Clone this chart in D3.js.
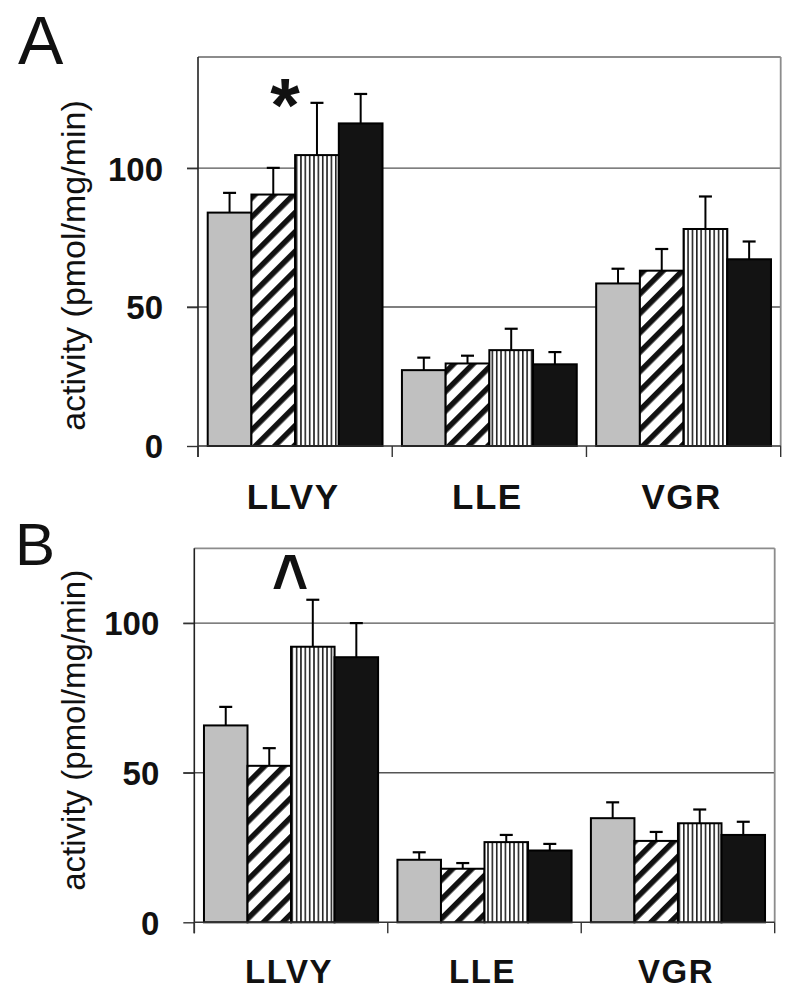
<!DOCTYPE html>
<html><head><meta charset="utf-8">
<script src="https://cdn.jsdelivr.net/npm/d3@7"></script>
<style>body{margin:0;background:#fff}</style>
</head><body><svg id="c" width="800" height="996"></svg>
<script>
// ---- data ----
const categories = ["LLVY", "LLE", "VGR"];
const groups = ["g1", "g2", "g3", "g4"];
const yTicks = [0, 50, 100];
const meanA = [[84.0, 90.5, 104.7, 116.1], [27.3, 29.7, 34.5, 29.4], [58.5, 63.1, 78.1, 67.2]];
const errA  = [[7.1, 9.6, 18.8, 10.6], [4.5, 2.8, 7.7, 4.4], [5.3, 7.8, 11.7, 6.4]];
const meanB = [[65.8, 52.3, 92.1, 88.6], [20.9, 17.9, 26.8, 24.0], [34.8, 27.2, 33.1, 29.2]];
const errB  = [[6.2, 5.9, 15.7, 11.4], [2.5, 1.9, 2.4, 2.2], [5.3, 3.0, 4.6, 4.4]];
const yMaxA = 140, yMaxB = 125;
const panelLabels = ["A", "B"];
const yLabel = "activity (pmol/mg/min)";
const annotA = {cat: "LLVY", group: "g3", value: 125.5, text: "*"};
const annotB = {cat: "LLVY", group: "g3", value: 116.5, text: "^"};

// ---- layout ----
const panels = [
  {label: panelLabels[0], mean: meanA, err: errA, yMax: yMaxA, annot: annotA,
   left: 198, right: 780.7, top: 57, bottom: 446,
   labX: 18, labY: 64, labSize: 68, yLabX: 85, yLabDy: 14, yLabSize: 34,
   xLabBase: 509, xLabSize: 35, annotSize: 76, annotScaleY: 1, annotDy: 0.44, annotDx: -10},
  {label: panelLabels[1], mean: meanB, err: errB, yMax: yMaxB, annot: annotB,
   left: 194.3, right: 774.7, top: 548.3, bottom: 922.3,
   labX: 15, labY: 565, labSize: 60, yLabX: 85, yLabDy: -5, yLabSize: 33,
   xLabBase: 983, xLabSize: 33, annotSize: 62, annotScaleY: 1.25, annotDy: 0.45, annotDx: -1}
];

const svg = d3.select("#c");
const defs = svg.append("defs");
// diagonal hatch "/"
const ph = defs.append("pattern").attr("id", "diag").attr("patternUnits", "userSpaceOnUse")
  .attr("width", 13.7).attr("height", 13.7).attr("patternTransform", "rotate(45)");
ph.append("rect").attr("width", 13.7).attr("height", 13.7).attr("fill", "#fff");
ph.append("rect").attr("x", 0).attr("width", 5.5).attr("height", 13.7).attr("fill", "#111");
// vertical stripes
const pv = defs.append("pattern").attr("id", "vert").attr("patternUnits", "userSpaceOnUse")
  .attr("width", 4.35).attr("height", 10);
pv.append("rect").attr("width", 4.35).attr("height", 10).attr("fill", "#fff");
pv.append("rect").attr("x", 0).attr("width", 1.6).attr("height", 10).attr("fill", "#222");

const fills = {g1: "#c0c0c0", g2: "url(#diag)", g3: "url(#vert)", g4: "#131313"};
const FONT = "'Liberation Sans', Arial, Helvetica, sans-serif";

panels.forEach(p => {
  const g = svg.append("g");
  const y = d3.scaleLinear().domain([0, p.yMax]).range([p.bottom, p.top]);
  const x0 = d3.scaleBand().domain(categories).range([p.left, p.right]).paddingInner(0.1).paddingOuter(0.05);
  const x1 = d3.scaleBand().domain(groups).range([0, x0.bandwidth()]);
  const step = x0.step();
  const bounds = d3.range(categories.length + 1).map(i => p.left + i * step);

  // gridlines (with left tick extension)
  g.selectAll(".grid").data(yTicks.filter(t => t > 0)).join("line")
    .attr("x1", p.left - 11).attr("x2", p.right)
    .attr("y1", d => y(d)).attr("y2", d => y(d))
    .attr("stroke", "#555").attr("stroke-width", 1.4);
  // frame top and right (grey)
  g.append("line").attr("x1", p.left).attr("x2", p.right).attr("y1", y(p.yMax)).attr("y2", y(p.yMax))
    .attr("stroke", "#8c8c8c").attr("stroke-width", 1.8);
  g.append("line").attr("x1", p.right).attr("x2", p.right).attr("y1", y(p.yMax)).attr("y2", y(0))
    .attr("stroke", "#8c8c8c").attr("stroke-width", 1.8);

  // bars
  const rows = [];
  categories.forEach((c, ci) => groups.forEach((gr, gi) =>
    rows.push({c, gr, v: p.mean[ci][gi], e: p.err[ci][gi]})));
  g.selectAll(".bar").data(rows).join("rect")
    .attr("x", d => x0(d.c) + x1(d.gr)).attr("width", x1.bandwidth())
    .attr("y", d => y(d.v)).attr("height", d => y(0) - y(d.v))
    .attr("fill", d => fills[d.gr]).attr("stroke", "#000").attr("stroke-width", 2);
  // error bars
  g.selectAll(".eb").data(rows).join("line")
    .attr("x1", d => x0(d.c) + x1(d.gr) + x1.bandwidth() / 2)
    .attr("x2", d => x0(d.c) + x1(d.gr) + x1.bandwidth() / 2)
    .attr("y1", d => y(d.v)).attr("y2", d => y(d.v + d.e))
    .attr("stroke", "#000").attr("stroke-width", 2);
  g.selectAll(".cap").data(rows).join("line")
    .attr("x1", d => x0(d.c) + x1(d.gr) + x1.bandwidth() / 2 - 6.5)
    .attr("x2", d => x0(d.c) + x1(d.gr) + x1.bandwidth() / 2 + 6.5)
    .attr("y1", d => y(d.v + d.e)).attr("y2", d => y(d.v + d.e))
    .attr("stroke", "#000").attr("stroke-width", 2.2);

  // y axis
  const ya = g.append("g").attr("transform", `translate(${p.left},0)`)
    .call(d3.axisLeft(y).tickValues(yTicks).tickSize(11).tickPadding(24).tickSizeOuter(0));
  ya.select(".domain").remove();
  ya.selectAll(".tick line").attr("stroke", "#333").attr("stroke-width", 1.4);
  ya.selectAll(".tick text").attr("font-family", FONT).attr("font-weight", "bold")
    .attr("font-size", 33).attr("fill", "#111").attr("dy", "0.36em");
  g.append("line").attr("x1", p.left).attr("x2", p.left).attr("y1", y(p.yMax)).attr("y2", y(0) + 11)
    .attr("stroke", "#222").attr("stroke-width", 1.6);
  // x axis baseline and category boundary ticks
  g.append("line").attr("x1", p.left).attr("x2", p.right).attr("y1", y(0)).attr("y2", y(0))
    .attr("stroke", "#333").attr("stroke-width", 1.6);
  g.selectAll(".xt").data(bounds).join("line")
    .attr("x1", d => d).attr("x2", d => d).attr("y1", y(0)).attr("y2", y(0) + 11)
    .attr("stroke", "#333").attr("stroke-width", 1.4);
  // x labels
  g.selectAll(".xl").data(categories).join("text")
    .attr("x", d => x0(d) + x0.bandwidth() / 2 - 2).attr("y", p.xLabBase)
    .attr("text-anchor", "middle").attr("font-family", FONT).attr("font-weight", "bold")
    .attr("font-size", p.xLabSize).attr("letter-spacing", "1.5px").attr("fill", "#111").text(d => d);

  // y label
  g.append("text").attr("transform", `translate(${p.yLabX},${(p.top + p.bottom) / 2 + p.yLabDy}) rotate(-90)`)
    .attr("text-anchor", "middle").attr("font-family", FONT).attr("font-size", p.yLabSize)
    .attr("fill", "#111").text(yLabel);

  // panel label
  g.append("text").attr("x", p.labX).attr("y", p.labY).attr("font-family", FONT)
    .attr("font-size", p.labSize).attr("fill", "#111").text(p.label);

  // significance annotation
  const a = p.annot;
  g.append("text")
    .attr("transform", `translate(${x0(a.cat) + x1(a.group) + p.annotDx},${y(a.value)}) scale(1,${p.annotScaleY})`)
    .attr("dy", p.annotDy + "em").attr("text-anchor", "middle").attr("font-family", FONT)
    .attr("font-weight", "bold").attr("font-size", p.annotSize).attr("fill", "#111").text(a.text);
});
</script></body></html>
